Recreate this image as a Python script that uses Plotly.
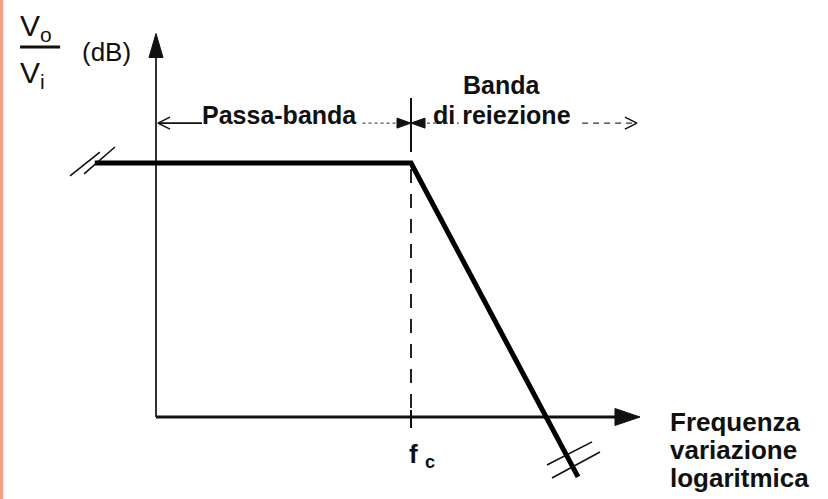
import plotly.graph_objects as go

# ---------------- data (diagram units) ----------------
# x: logarithmic frequency, origin at the gain axis, cut-off fc = 1
# y: gain (dB, schematic), 0 on the frequency axis, passband level = 1
freq = [-0.24, 1.0, 1.655]          # corner points of the response
gain = [1.0, 1.0, -0.236]
fc = 1.0
x_axis_end = 1.898
y_axis_end = 1.51
band_arrow_y = 1.157

band_pass_label = "<b>Passa-banda</b>"
band_stop_lines = ["<b>Banda</b>", "<b>di reiezione</b>"]
x_label_lines = ["<b>Frequenza</b>", "<b>variazione</b>", "<b>logaritmica</b>"]
fc_label = "<b>f <sub>c</sub></b>"
y_num = "V<sub>o</sub>"
y_den = "V<sub>i</sub>"
y_unit = "(dB)"

# ---------------- layout scale ----------------
W, H = 828, 499
SX, SY = 255.0, 254.0      # px per unit
OX, OY = 156, 417          # pixel position of the origin
xr = [-OX / SX, (W - OX) / SX]
yr = [-(H - OY) / SY, OY / SY]


def dx(p):
    return p / SX


def dy(p):
    return p / SY


INK = "#111111"
fig = go.Figure()


def seg(xs, ys, width=2, color=INK, dash=None):
    fig.add_trace(go.Scatter(x=xs, y=ys, mode="lines",
                             line=dict(color=color, width=width, dash=dash),
                             hoverinfo="skip", showlegend=False))


def tri(xs, ys, color=INK):
    fig.add_trace(go.Scatter(x=xs + [xs[0]], y=ys + [ys[0]], mode="lines",
                             fill="toself", fillcolor=color,
                             line=dict(color=color, width=1),
                             hoverinfo="skip", showlegend=False))


# axes
seg([0, 0], [0, y_axis_end - dy(18)], width=2, color="#333333")
tri([-dx(7), 0, dx(7)], [y_axis_end - dy(24), y_axis_end, y_axis_end - dy(24)])
seg([0, x_axis_end - dx(18)], [0, 0], width=3)
tri([x_axis_end - dx(25), x_axis_end, x_axis_end - dx(25)], [dy(8.5), 0, -dy(8.5)])

# response
seg(freq, gain, width=5, color="#000000")

# cut-off markers
seg([fc, fc], [dy(9), gain[1] - dy(3)], width=2, color="#222222", dash="14px,11px")
seg([fc, fc], [-dy(11), dy(7)], width=2)
seg([fc, fc], [band_arrow_y - dy(29), band_arrow_y + dy(25)], width=2)

# band arrows
ya = band_arrow_y
seg([dx(2), dx(46)], [ya, ya], width=1.6)
seg([dx(14), dx(2), dx(14)], [ya + dy(6), ya, ya - dy(6)], width=1.6)
seg([0.81, fc - dx(10)], [ya, ya], width=1.3, color="#555555", dash="dot")
tri([fc - dx(14), fc, fc - dx(14)], [ya + dy(5), ya, ya - dy(5)])
seg([fc + dx(10), fc + dx(48)], [ya, ya], width=1.3, color="#555555", dash="dot")
tri([fc + dx(14), fc, fc + dx(14)], [ya + dy(5), ya, ya - dy(5)])
seg([1.671, 1.884], [ya, ya], width=1.4, color="#333333", dash="6px,5px")
seg([1.886 - dx(12), 1.886, 1.886 - dx(12)], [ya + dy(6), ya, ya - dy(6)], width=1.6)

# break marks
seg([-0.337, -0.220], [0.949, 1.043], width=1.6)
seg([-0.282, -0.161], [0.957, 1.063], width=1.6)
seg([1.533, 1.710], [-0.189, -0.098], width=1.6)
seg([1.553, 1.741], [-0.240, -0.138], width=1.6)

# fraction bar of Vo/Vi
seg([-0.533, -0.376], [1.457, 1.457], width=3)

BOLD = dict(family="Liberation Sans, Arial, sans-serif", size=25, color=INK)
REG = dict(family="Liberation Sans, Arial, sans-serif", size=30, color=INK)

ann = [
    dict(x=0.486, y=ya - dy(8), text=band_pass_label, xanchor="center", yanchor="bottom", font=BOLD),
    dict(x=1.357, y=ya - dy(8), text=band_stop_lines[1], xanchor="center", yanchor="bottom", font=BOLD),
    dict(x=1.357, y=ya - dy(8) + dy(30), text=band_stop_lines[0], xanchor="center", yanchor="bottom", font=BOLD),
    dict(x=fc - dx(4), y=-dy(20), text=fc_label, xanchor="left", yanchor="top",
         font=dict(BOLD, size=26)),
    dict(x=-0.54, y=1.535, text=y_num, xanchor="left", yanchor="middle", font=REG),
    dict(x=-0.54, y=1.35, text=y_den, xanchor="left", yanchor="middle", font=REG),
    dict(x=-0.30, y=1.437, text=y_unit, xanchor="left", yanchor="middle",
         font=dict(REG, size=26)),
]
for i, line in enumerate(x_label_lines):
    ann.append(dict(x=2.008, y=dy(12) - dy(28) * i, text=line, xanchor="left", yanchor="top",
                    font=dict(BOLD, size=26)))
for a in ann:
    a.update(xref="x", yref="y", showarrow=False)

fig.update_layout(
    width=W, height=H, autosize=False,
    margin=dict(l=0, r=0, t=0, b=0),
    paper_bgcolor="white", plot_bgcolor="white",
    xaxis=dict(range=xr, visible=False, fixedrange=True),
    yaxis=dict(range=yr, visible=False, fixedrange=True),
    annotations=ann,
    shapes=[dict(type="rect", xref="paper", yref="paper", x0=0, x1=3.3 / W, y0=0, y1=1,
                 fillcolor="#F3A08A", line=dict(width=0), layer="above")],
)

fig.write_html("out.html", config={"displayModeBar": False},
               post_script="document.body.style.margin='0';document.body.style.overflow='hidden';")
